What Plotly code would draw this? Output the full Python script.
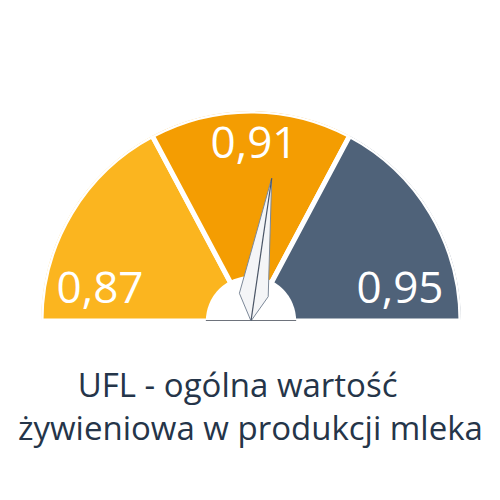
import plotly.graph_objects as go

# gauge data
gauge_min = 0.85
gauge_max = 0.97
sector_bounds = [0.85, 0.8913, 0.9287, 0.97]
sector_labels = ["0,87", "0,91", "0,95"]
sector_colors = ["#FBB51F", "#F49D02", "#4F6279"]
needle_value = 0.9155
title_lines = ["UFL - ogólna wartość", "żywieniowa w produkcji mleka"]


def to_theta(v):
    # low values on the left (180 deg), high values on the right (0 deg)
    return 180 * (gauge_max - v) / (gauge_max - gauge_min)


fig = go.Figure()

# coloured sectors
for i, label in enumerate(sector_labels):
    t0 = to_theta(sector_bounds[i])
    t1 = to_theta(sector_bounds[i + 1])
    fig.add_trace(go.Barpolar(
        r=[1], theta=[(t0 + t1) / 2], width=[abs(t0 - t1)],
        marker=dict(color=sector_colors[i], line=dict(color="white", width=5)),
        hoverinfo="skip", showlegend=False,
    ))

# white hub
fig.add_trace(go.Barpolar(
    r=[0.215], theta=[90], width=[180],
    marker=dict(color="white", line=dict(width=0)),
    hoverinfo="skip", showlegend=False,
))
fig.add_trace(go.Scatterpolar(
    r=[0.215, 0.215], theta=[180, 0], mode="lines",
    line=dict(color="#3E4450", width=1.5),
    hoverinfo="skip", showlegend=False,
))

# needle
ang = to_theta(needle_value)
fig.add_trace(go.Scatterpolar(
    r=[0, 0.143, 0.687, 0.142, 0],
    theta=[ang, ang + 31, ang, ang - 27, ang],
    mode="lines", fill="toself", fillcolor="#F4F5F7",
    line=dict(color="#7C8898", width=1),
    hoverinfo="skip", showlegend=False,
))
fig.add_trace(go.Scatterpolar(
    r=[0, 0.687], theta=[ang, ang],
    mode="lines", line=dict(color="#4A5566", width=1.2),
    hoverinfo="skip", showlegend=False,
))

# sector value labels
label_r = [0.732, 0.829, 0.723]
label_theta = [169.1, 89.0, 11.0]
fig.add_trace(go.Scatterpolar(
    r=label_r, theta=label_theta, mode="text", text=sector_labels,
    textfont=dict(family="Open Sans", size=44, color="white"),
    hoverinfo="skip", showlegend=False,
))

# page body adds an 8px offset, so positions are shifted back by 8px
fig.update_layout(
    width=500, height=500,
    margin=dict(l=0, r=0, t=0, b=0),
    paper_bgcolor="white",
    polar=dict(
        domain=dict(x=[0.066, 0.906], y=[0.374, 0.794]),
        sector=[0, 180],
        bgcolor="white",
        barmode="overlay",
        radialaxis=dict(range=[0, 1], visible=False, showgrid=False),
        angularaxis=dict(visible=False, showgrid=False),
    ),
)

# first line sits a bit left of centre in the reference
title_text = title_lines[0] + "\u00a0" * 3 + "<br>" + title_lines[1]
fig.add_annotation(
    text=title_text, x=242 / 500, y=1 - 397.5 / 500, xref="paper", yref="paper",
    xanchor="center", yanchor="middle", align="center", showarrow=False,
    font=dict(family="Open Sans", size=33, color="#253549"),
)

fig.write_html("out.html")
